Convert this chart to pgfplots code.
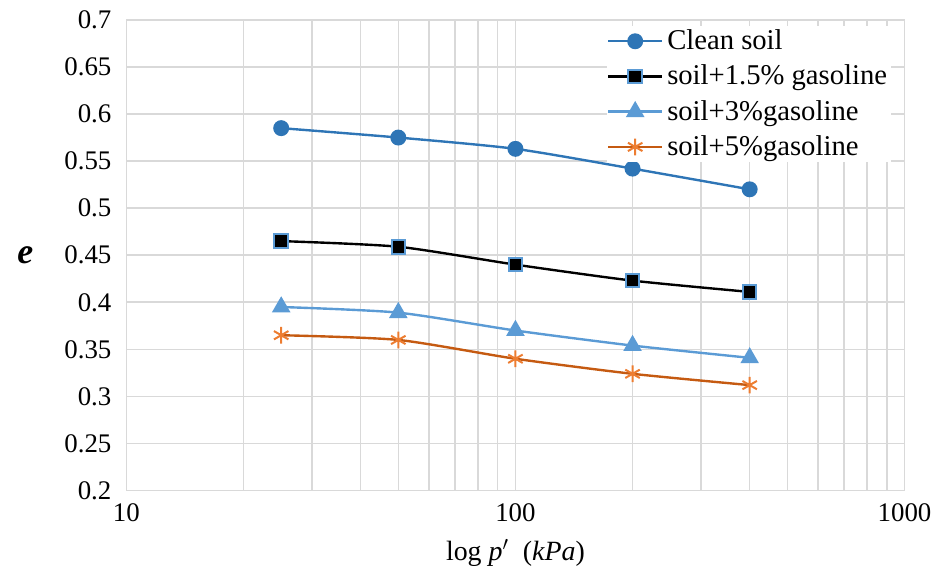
\documentclass[border=0pt]{standalone}
\usepackage{fontspec}
\setmainfont{Liberation Serif}
\usepackage{pgfplots}
\pgfplotsset{compat=1.18}
\definecolor{cblue}{HTML}{2E75B6}
\definecolor{lblue}{HTML}{5B9BD5}
\definecolor{corange}{HTML}{ED7D31}
\definecolor{dorange}{HTML}{C55A11}
\definecolor{gridc}{HTML}{D9D9D9}
\begin{document}
\begin{tikzpicture}
\begin{axis}[
  scale only axis,
  width=391pt, height=236.5pt,
  xmode=log, xmin=10, xmax=1000,
  ymin=0.2, ymax=0.7,
  xtick={10,100,1000}, xticklabels={\mbox{10},\mbox{100},\mbox{1000}},
  ytick={0.2,0.25,...,0.7},
  yticklabels={\mbox{0.2},\mbox{0.25},\mbox{0.3},\mbox{0.35},\mbox{0.4},\mbox{0.45},\mbox{0.5},\mbox{0.55},\mbox{0.6},\mbox{0.65},\mbox{0.7}},
  tick style={draw=none},
  minor x tick num=8,
  grid=both,
  major grid style={gridc, line width=0.8pt},
  minor grid style={gridc, line width=0.8pt},
  axis line style={gridc, line width=0.8pt},
  ticklabel style={font=\fontsize{13.5}{15}\selectfont},
  xticklabel style={yshift=-3pt},
  yticklabel style={xshift=-4pt},
  xlabel={log \textit{p}$^{\prime}$\ \ (\textit{kPa})},
  xlabel style={font=\fontsize{14}{16}\selectfont, yshift=-2pt},
  ylabel={\textbf{\textit{e}}},
  ylabel style={rotate=-90, font=\fontsize{18}{20}\selectfont, at={(axis description cs:-0.13,0.5)}, anchor=center},
  legend style={at={(1,1)}, anchor=north east, draw=none, fill=white,
    font=\fontsize{14.4}{16}\selectfont, row sep=2.2pt, inner sep=0pt, xshift=-6.5pt, yshift=-2.8pt},
  legend cell align=left,
  legend image code/.code={\draw[#1] (0cm,0cm) -- (0.95cm,0cm); \draw[#1] plot coordinates {(0.475cm,0cm)};},
]
\addplot[cblue, line width=1.2pt, smooth, tension=0.4, mark=*, mark size=3.4pt, mark options={fill=cblue, draw=cblue}]
  coordinates {(25,0.585) (50,0.575) (100,0.563) (200,0.542) (400,0.520)};
\addlegendentry{Clean soil}
\addplot[black, line width=1.2pt, smooth, tension=0.4, mark=square*, mark size=3.4pt, mark options={fill=black, draw=lblue, line width=1pt}]
  coordinates {(25,0.465) (50,0.459) (100,0.440) (200,0.423) (400,0.411)};
\addlegendentry{soil+1.5\% gasoline}
\addplot[lblue, line width=1.2pt, smooth, tension=0.4, mark=triangle*, mark size=4.2pt, mark options={fill=lblue, draw=lblue}]
  coordinates {(25,0.395) (50,0.389) (100,0.370) (200,0.354) (400,0.341)};
\addlegendentry{soil+3\%gasoline}
\addplot[dorange, line width=1.2pt, smooth, tension=0.4, mark=asterisk, mark size=4.2pt, mark options={draw=corange, line width=1pt}]
  coordinates {(25,0.365) (50,0.360) (100,0.340) (200,0.324) (400,0.312)};
\addlegendentry{soil+5\%gasoline}
\end{axis}
\path ([xshift=-63.5pt,yshift=10pt]current axis.north west) ([xshift=14.5pt,yshift=-41.5pt]current axis.south east);
\end{tikzpicture}
\end{document}
